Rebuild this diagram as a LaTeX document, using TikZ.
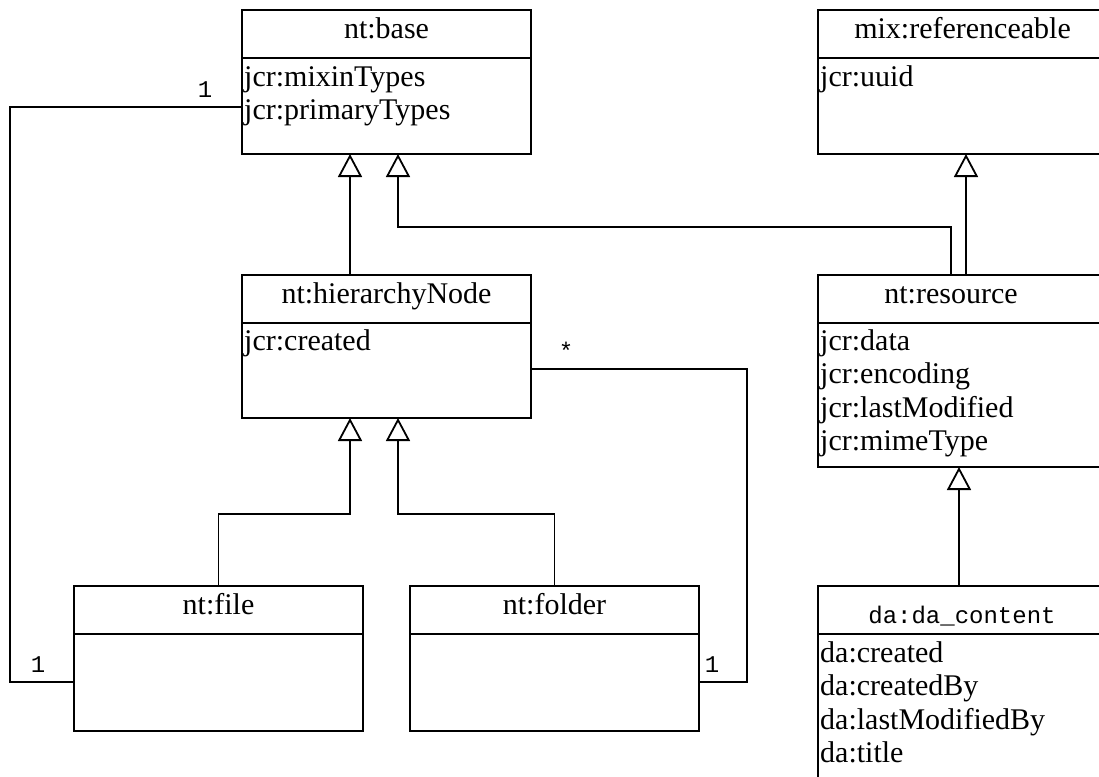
\documentclass[tikz,border=0pt]{standalone}
\usepackage{fontspec}
\setmainfont{Liberation Serif}
\setmonofont{Liberation Mono}
\usetikzlibrary{arrows.meta,calc}

\tikzset{
  umlbox/.style={draw, line width=1.8pt, rectangle, minimum width=289pt,
    inner sep=0pt, outer sep=0pt, anchor=north west},
  umltitle/.style={anchor=base, inner sep=0pt, font=\fontsize{30}{34}\selectfont},
  umlmono/.style={anchor=base, inner sep=0pt, font=\ttfamily\fontsize{24}{28}\selectfont},
  umlattr/.style={anchor=base west, inner sep=0pt, font=\fontsize{30}{34}\selectfont},
  conn/.style={line width=1.8pt},
  inherit/.style={conn, -{Triangle[open, length=23pt, width=24pt, line width=1.8pt]}},
}

% class box: name, left, top, height
\newcommand\umlclass[4]{%
  \node[umlbox, minimum height=#4pt] (#1) at (#2,#3) {};
  \draw[line width=1.8pt] ($(#1.north west)+(0,48)$) -- ($(#1.north east)+(0,48)$);
}

\begin{document}
\begin{tikzpicture}[x=1pt,y=-1pt]
  \useasboundingbox (0,0) rectangle (1099,776);
  \clip (0,0) rectangle (1099,776);

  % class boxes
  \umlclass{base}{242}{10}{144}
  \umlclass{mix}{818}{10}{144}
  \umlclass{hier}{242}{275}{143}
  \umlclass{res}{818}{275}{192}
  \umlclass{file}{74}{586}{145}
  \umlclass{folder}{410}{586}{145}
  \umlclass{da}{818}{586}{220}

  % titles
  \node[umltitle] (baseT) at (386.5,38) {nt:base};
  \node[umltitle] (mixT) at (962.5,38) {mix:referenceable};
  \node[umltitle] (hierT) at (386.5,303) {nt:hierarchyNode};
  \node[umltitle] (resT) at (951,303) {nt:resource};
  \node[umltitle] (fileT) at (218.5,614) {nt:file};
  \node[umltitle] (folderT) at (554.5,614) {nt:folder};
  \node[umlmono] (daT) at (962,623) {da:da\_content};

  % attributes
  \node[umlattr] (baseA1) at (244,86) {jcr:mixinTypes};
  \node[umlattr] (baseA2) at (244,119) {jcr:primaryTypes};
  \node[umlattr] (mixA1) at (820,86) {jcr:uuid};
  \node[umlattr] (hierA1) at (244,350) {jcr:created};
  \node[umlattr] (resA1) at (820,350) {jcr:data};
  \node[umlattr] (resA2) at (820,383.5) {jcr:encoding};
  \node[umlattr] (resA3) at (820,417) {jcr:lastModified};
  \node[umlattr] (resA4) at (820,450.5) {jcr:mimeType};
  \node[umlattr] (daA1) at (820,662) {da:created};
  \node[umlattr] (daA2) at (820,695.5) {da:createdBy};
  \node[umlattr] (daA3) at (820,729) {da:lastModifiedBy};
  \node[umlattr] (daA4) at (820,762.5) {da:title};

  % routing points
  \coordinate (c350) at (350,0);
  \coordinate (c951) at (951,0);
  \coordinate (c959) at (959,0);
  \coordinate (c966) at (966,0);
  \coordinate (j1) at (398,227);
  \coordinate (j2) at (350,514);
  \coordinate (j3) at (398,514);
  \coordinate (l1) at (10,107);
  \coordinate (l2) at (10,682);
  \coordinate (r1) at (747,369);
  \coordinate (r2) at (747,682);

  % generalizations
  \draw[inherit] (hier.north -| c350) -- (base.south -| c350);
  \draw[inherit] (res.north -| c951) |- (j1) -- (base.south -| j1);
  \draw[inherit] (res.north -| c966) -- (mix.south -| c966);
  \draw[inherit] (file.north) |- (j2) -- (hier.south -| j2);
  \draw[inherit] (folder.north) |- (j3) -- (hier.south -| j3);
  \draw[inherit] (da.north -| c959) -- (res.south -| c959);

  % associations
  \draw[conn] (l1 -| base.west) -- (l1) -- (l2) -- (l2 -| file.west);
  \draw[conn] (r1 -| hier.east) -- (r1) -- (r2) -- (r2 -| folder.east);

  % multiplicities
  \node[umlmono] (m1) at (205,97) {1};
  \node[umlmono] (m2) at (38,672) {1};
  \node[umlmono] (m3) at (566,359) {*};
  \node[umlmono] (m4) at (712,672) {1};
\end{tikzpicture}
\end{document}
